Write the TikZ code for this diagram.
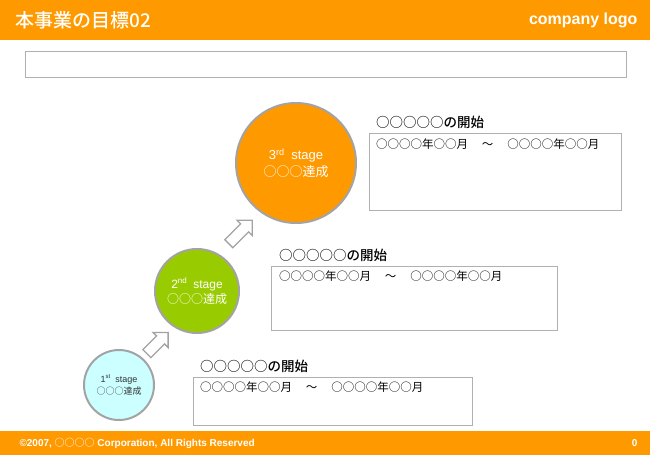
\documentclass[tikz,border=0pt]{standalone}
\usepackage{fontspec}
\setmainfont{Liberation Sans}
\newfontfamily\jp{Noto Sans CJK JP}[BoldFont={Noto Sans CJK JP Medium}]
\usetikzlibrary{shapes.arrows}

\definecolor{hdorange}{HTML}{FF9900}
\definecolor{stgreen}{HTML}{99CC00}
\definecolor{stcyan}{HTML}{CCFFFF}
\definecolor{rimgray}{HTML}{A3A3A3}
\definecolor{boxgray}{HTML}{B0B0B0}

\tikzset{
  stage/.style={circle, draw=rimgray, line width=2pt, align=center, inner sep=0pt},
  planbox/.style={draw=boxgray, line width=1pt, anchor=north west, inner sep=0pt},
  planlabel/.style={anchor=base west, inner sep=0pt, font=\jp\bfseries\fontsize{13.5}{14}\selectfont},
  plantext/.style={anchor=base west, inner sep=0pt, font=\jp\fontsize{11.5}{12}\selectfont},
  stepper/.style={single arrow, draw=rimgray, fill=white, line width=1.3pt, inner sep=5pt,
    single arrow head extend=5pt, minimum height=30pt, rotate=45}
}

\newcommand{\period}{○○○○年○○月\hspace{1.2em}～\hspace{1.2em}○○○○年○○月}

\begin{document}
\begin{tikzpicture}[x=1pt,y=1pt]
        \useasboundingbox (0,0) rectangle (650,-455);

        % header and footer
        \fill[hdorange] (0,0) rectangle (650,-40);
        \fill[hdorange] (0,-431) rectangle (650,-455);
        \node[anchor=west, text=white, font=\jp\bfseries\fontsize{19}{19}\selectfont] (title) at (12,-20) {本事業の目標02};
        \node[anchor=east, text=white, font=\bfseries\fontsize{16}{16}\selectfont] (logo) at (641,-20) {company logo};
        \node[anchor=west, text=white, font=\bfseries\fontsize{10}{10}\selectfont] (copy) at (16,-443.5)
            {©2007, {\jp ○○○○} Corporation, All Rights Reserved};
        \node[anchor=east, text=white, font=\bfseries\fontsize{10}{10}\selectfont] (page) at (641,-443) {0};

        \draw[boxgray, line width=1pt] (25,-51) rectangle (626,-77);

        % stages
        \node[stage, fill=hdorange, minimum size=120pt, text=white, font=\fontsize{13}{17}\selectfont] (s3) at (296,-163)
            {3\textsuperscript{rd}\enspace stage\\ {\jp ○○○達成}};
        \node[stage, fill=stgreen, minimum size=84pt, text=white, font=\fontsize{12}{15}\selectfont] (s2) at (197,-291)
            {2\textsuperscript{nd}\enspace stage\\ {\jp ○○○達成}};
        \node[stage, fill=stcyan, minimum size=70pt, text=black!80, font=\fontsize{9}{11.5}\selectfont] (s1) at (119,-385)
            {1\textsuperscript{st}\enspace stage\\ {\jp ○○○達成}};

        \node[stepper] (up1) at (155.5,-345) {};
        \node[stepper, minimum height=33pt] (up2) at (238.5,-234) {};

        % periods
        \node[planbox, minimum width=252pt, minimum height=77pt] (b3) at (369,-133) {};
        \node[planbox, minimum width=286pt, minimum height=64pt] (b2) at (271,-266) {};
        \node[planbox, minimum width=279pt, minimum height=48pt] (b1) at (193,-377) {};

        \node[planlabel] (l3) at ([shift={(7,6)}]b3.north west) {○○○○○の開始};
        \node[planlabel] (l2) at ([shift={(8,6)}]b2.north west) {○○○○○の開始};
        \node[planlabel] (l1) at ([shift={(7,6)}]b1.north west) {○○○○○の開始};

        \node[plantext] (t3) at ([shift={(7,-15)}]b3.north west) {\period};
        \node[plantext] (t2) at ([shift={(8,-14)}]b2.north west) {\period};
        \node[plantext] (t1) at ([shift={(7,-14)}]b1.north west) {\period};

    \end{tikzpicture}
\end{document}
